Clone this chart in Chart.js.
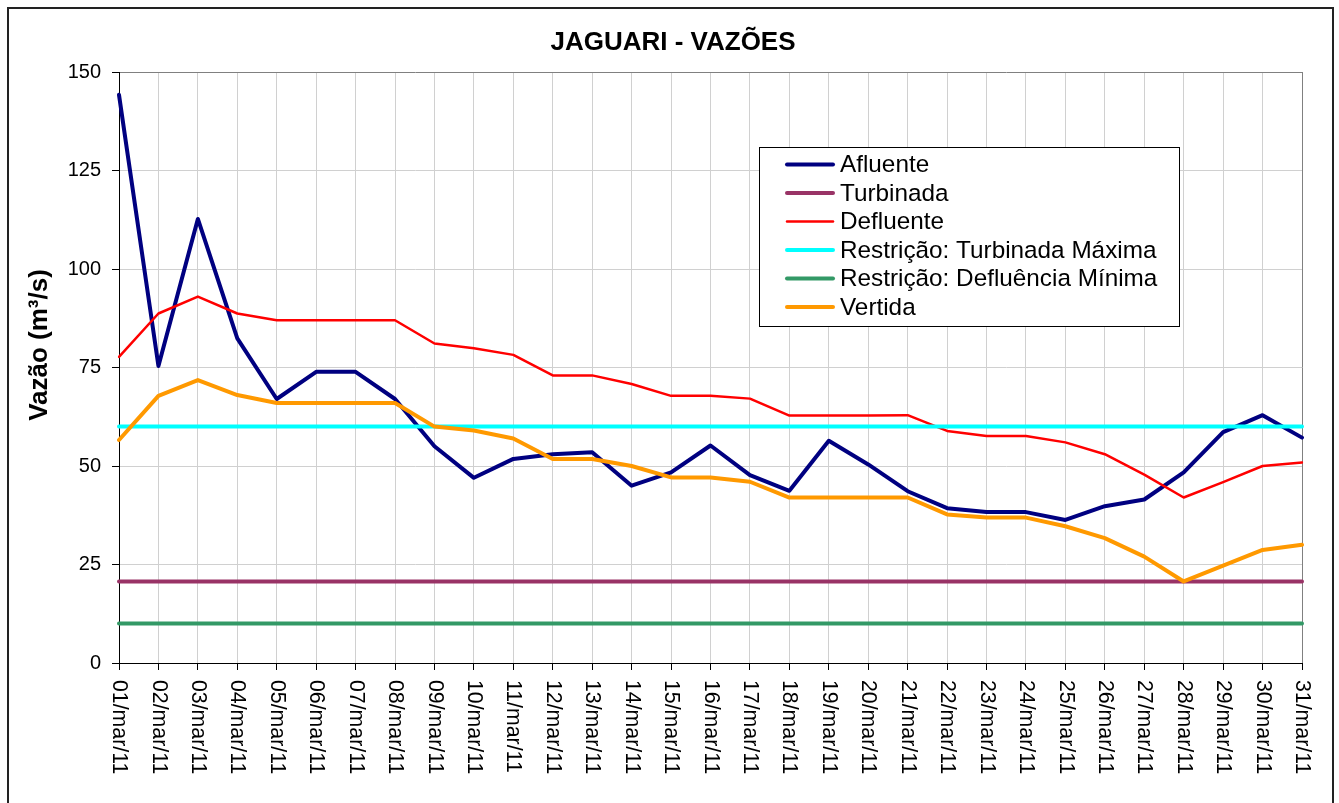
<!DOCTYPE html>
<html>
<head>
<meta charset="utf-8">
<script src="https://cdn.jsdelivr.net/npm/chart.js@4.4.1/dist/chart.umd.min.js"></script>
<style>
  body { margin: 0; background: #fff; }
  canvas { display: block; }
</style>
</head>
<body>
<canvas id="chart" width="1339" height="803"></canvas>
<script>
const FONT = "'Liberation Sans', Arial, sans-serif";

const dias = ['01/mar/11', '02/mar/11', '03/mar/11', '04/mar/11', '05/mar/11', '06/mar/11', '07/mar/11',
    '08/mar/11', '09/mar/11', '10/mar/11', '11/mar/11', '12/mar/11', '13/mar/11', '14/mar/11',
    '15/mar/11', '16/mar/11', '17/mar/11', '18/mar/11', '19/mar/11', '20/mar/11', '21/mar/11',
    '22/mar/11', '23/mar/11', '24/mar/11', '25/mar/11', '26/mar/11', '27/mar/11', '28/mar/11',
    '29/mar/11', '30/mar/11', '31/mar/11'];

const afluente = [144.2, 75.4, 112.7, 82.4, 67, 73.9, 73.9, 67, 55, 47, 51.8, 53, 53.5, 45, 48.4, 55.2,
    47.7, 43.7, 56.4, 50.4, 43.6, 39.3, 38.3, 38.3, 36.3, 39.8, 41.5, 48.4, 58.6, 62.9, 57.2];
const turbinada = [20.7, 20.7, 20.7, 20.7, 20.7, 20.7, 20.7, 20.7, 20.7, 20.7, 20.7, 20.7, 20.7, 20.7, 20.7, 20.7,
    20.7, 20.7, 20.7, 20.7, 20.7, 20.7, 20.7, 20.7, 20.7, 20.7, 20.7, 20.7, 20.7, 20.7, 20.7];
const defluente = [77.7, 88.7, 93, 88.7, 87, 87, 87, 87, 81.1, 79.9, 78.2, 73, 73, 70.8, 67.8, 67.8,
    67.1, 62.8, 62.8, 62.8, 62.9, 58.9, 57.6, 57.6, 56, 53, 47.8, 42, 45.9, 50, 50.9];
const turbMaxima = [60, 60, 60, 60, 60, 60, 60, 60, 60, 60, 60, 60, 60, 60, 60, 60,
    60, 60, 60, 60, 60, 60, 60, 60, 60, 60, 60, 60, 60, 60, 60];
const deflMinima = [10, 10, 10, 10, 10, 10, 10, 10, 10, 10, 10, 10, 10, 10, 10, 10,
    10, 10, 10, 10, 10, 10, 10, 10, 10, 10, 10, 10, 10, 10, 10];
const vertida = [56.6, 67.8, 71.8, 68, 66, 66, 66, 66, 60, 59, 57, 51.8, 51.8, 50, 47.1, 47.1,
    46, 42, 42, 42, 42, 37.7, 36.9, 36.9, 34.7, 31.7, 27, 20.7, 24.7, 28.7, 30];

Chart.defaults.font.family = FONT;
Chart.defaults.color = '#000';

function serie(label, data, color, width, order) {
    return {
        label: label, data: data, borderColor: color, backgroundColor: color,
        borderWidth: width, pointRadius: 0, tension: 0, order: order,
        borderJoinStyle: 'round', borderCapStyle: 'round'
    };
}

// titulo, titulo do eixo y, rotulos do eixo x, legenda e moldura
const extras = {
    id: 'extras',
    beforeDraw(chart) {
        const c = chart.ctx;
        c.save();
        c.fillStyle = '#fff';
        c.fillRect(0, 0, chart.width, chart.height);
        c.restore();
    },
    afterDraw(chart) {
        const c = chart.ctx;
        const xs = chart.scales.x;
        c.save();

        c.fillStyle = '#000';
        c.font = 'bold 26px ' + FONT;
        c.textAlign = 'center';
        c.textBaseline = 'middle';
        c.fillText('JAGUARI - VAZÕES', 673, 43);

        c.save();
        c.translate(40, 345);
        c.rotate(-Math.PI / 2);
        c.fillText('Vazão (m³/s)', 0, 0);
        c.restore();

        c.font = '21.3px ' + FONT;
        c.textAlign = 'left';
        xs.ticks.forEach((t, i) => {
            const x = xs.getPixelForTick(i);
            c.save();
            c.translate(x, 680);
            c.rotate(Math.PI / 2);
            c.fillText(chart.data.labels[i], 0, 0);
            c.restore();
        });

        // legenda
        const lx = 759.5, ly = 147.5, lw = 420, lh = 179;
        c.fillStyle = '#fff';
        c.fillRect(lx, ly, lw, lh);
        c.strokeStyle = '#000';
        c.lineWidth = 1;
        c.strokeRect(lx, ly, lw, lh);
        c.font = '24.3px ' + FONT;
        c.textBaseline = 'middle';
        chart.data.datasets.forEach((ds, i) => {
            const y = 164.5 + i * 28.5;
            c.strokeStyle = ds.borderColor;
            c.lineWidth = ds.borderWidth;
            c.lineCap = 'round';
            c.beginPath();
            c.moveTo(787, y);
            c.lineTo(833, y);
            c.stroke();
            c.fillStyle = '#000';
            c.fillText(ds.label, 840, y + 1);
        });

        // moldura externa
        c.strokeStyle = '#222';
        c.lineWidth = 2;
        c.strokeRect(8, 8, 1325, 810);
        c.restore();
    }
};

const ctx = document.getElementById('chart').getContext('2d');
let chart = new Chart(ctx, {
    type: 'line',
    data: {
        labels: dias,
        datasets: [
            serie('Afluente', afluente, '#000080', 4, 6),
            serie('Turbinada', turbinada, '#993366', 4, 5),
            serie('Defluente', defluente, '#ff0000', 2.5, 4),
            serie('Restrição: Turbinada Máxima', turbMaxima, '#00ffff', 4, 3),
            serie('Restrição: Defluência Mínima', deflMinima, '#339966', 4, 2),
            serie('Vertida', vertida, '#ff9900', 4, 1)
        ]
    },
    options: {
        responsive: false,
        animation: false,
        layout: { padding: { left: 8, right: 37, top: 72, bottom: 0 } },
        plugins: {
            legend: { display: false },
            tooltip: { enabled: false },
            title: { display: false }
        },
        scales: {
            x: {
                offset: false,
                grid: {
                    color: (g) => g.index === dias.length - 1 ? '#808080' : '#d0d0d0',
                    tickColor: '#000', tickLength: 7
                },
                border: { color: '#000', width: 1 },
                ticks: { display: false },
                afterFit(s) { s.height = 803 - 663; }
            },
            y: {
                min: 0,
                max: 150,
                ticks: { stepSize: 25, font: { size: 20 }, color: '#000', padding: 11 },
                grid: {
                    color: (g) => g.tick && g.tick.value === 150 ? '#808080' : '#d0d0d0',
                    tickColor: '#000', tickLength: 7
                },
                border: { color: '#000', width: 1 },
                afterFit(s) { s.width = 111; }
            }
        }
    },
    plugins: [extras]
});
</script>
</body>
</html>
